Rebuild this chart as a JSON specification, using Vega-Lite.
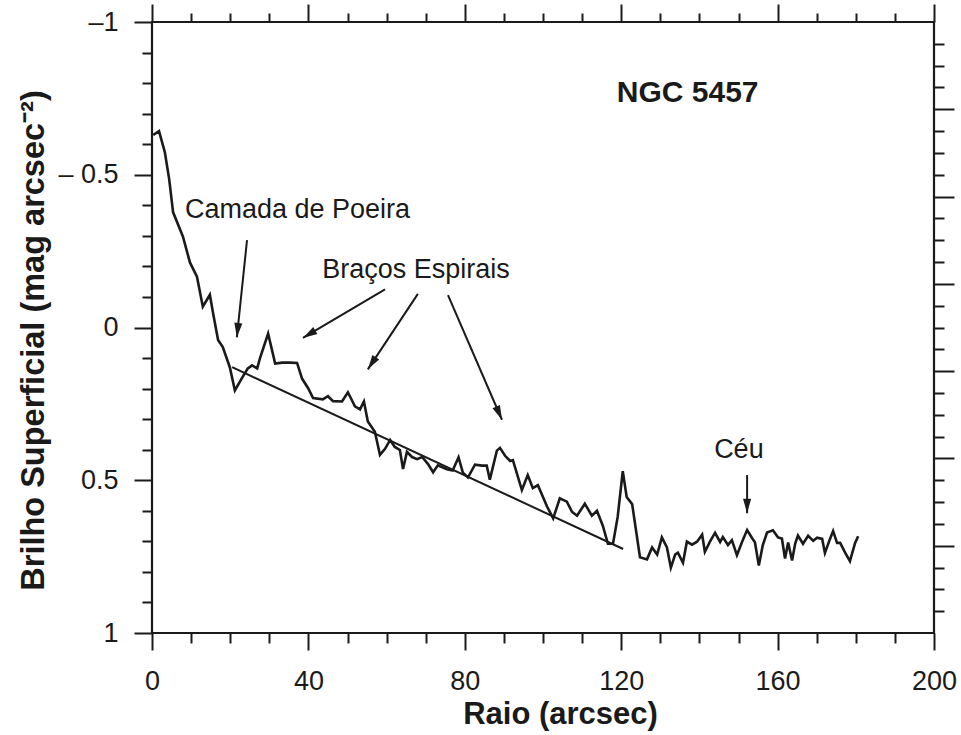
{
  "$schema": "https://vega.github.io/schema/vega-lite/v6.json",
  "width": 782,
  "height": 611,
  "autosize": {"type": "none"},
  "padding": {"left": 152, "top": 22, "right": 27, "bottom": 102},
  "background": "white",
  "config": {
    "view": {"stroke": "#1a1a1a", "strokeWidth": 2.2},
    "axis": {
      "domain": false,
      "grid": false,
      "tickColor": "#1a1a1a",
      "tickWidth": 2,
      "labelFont": "Liberation Sans",
      "labelFontSize": 27,
      "labelColor": "#1a1a1a",
      "labelFlush": false,
      "labelOverlap": false,
      "labelBound": false,
      "titleFont": "Liberation Sans",
      "titleFontSize": 31,
      "titleFontWeight": "bold",
      "titleColor": "#1a1a1a"
    }
  },
  "datasets": {
    "profile": [
      {"raio": 0.3, "brilho": -0.63},
      {"raio": 1.8, "brilho": -0.643},
      {"raio": 3.3, "brilho": -0.573},
      {"raio": 4.4, "brilho": -0.485},
      {"raio": 5.4, "brilho": -0.377},
      {"raio": 7.9, "brilho": -0.298},
      {"raio": 9.7, "brilho": -0.213},
      {"raio": 11.5, "brilho": -0.166},
      {"raio": 13.0, "brilho": -0.068},
      {"raio": 14.8, "brilho": -0.107},
      {"raio": 15.6, "brilho": -0.048},
      {"raio": 16.9, "brilho": 0.041},
      {"raio": 18.1, "brilho": 0.064},
      {"raio": 19.9, "brilho": 0.13},
      {"raio": 21.2, "brilho": 0.206},
      {"raio": 23.0, "brilho": 0.166},
      {"raio": 24.5, "brilho": 0.134},
      {"raio": 25.6, "brilho": 0.124},
      {"raio": 26.9, "brilho": 0.134},
      {"raio": 27.6, "brilho": 0.101},
      {"raio": 29.7, "brilho": 0.02},
      {"raio": 31.5, "brilho": 0.118},
      {"raio": 33.3, "brilho": 0.115},
      {"raio": 35.3, "brilho": 0.115},
      {"raio": 37.1, "brilho": 0.116},
      {"raio": 38.4, "brilho": 0.168},
      {"raio": 39.9, "brilho": 0.198},
      {"raio": 41.2, "brilho": 0.231},
      {"raio": 43.7, "brilho": 0.235},
      {"raio": 45.0, "brilho": 0.225},
      {"raio": 46.3, "brilho": 0.241},
      {"raio": 48.6, "brilho": 0.242},
      {"raio": 50.1, "brilho": 0.212},
      {"raio": 51.9, "brilho": 0.258},
      {"raio": 53.2, "brilho": 0.268},
      {"raio": 54.2, "brilho": 0.242},
      {"raio": 55.2, "brilho": 0.308},
      {"raio": 57.0, "brilho": 0.341},
      {"raio": 58.3, "brilho": 0.417},
      {"raio": 59.6, "brilho": 0.397},
      {"raio": 60.9, "brilho": 0.368},
      {"raio": 62.1, "brilho": 0.391},
      {"raio": 63.4, "brilho": 0.401},
      {"raio": 64.2, "brilho": 0.463},
      {"raio": 65.2, "brilho": 0.407},
      {"raio": 66.5, "brilho": 0.424},
      {"raio": 67.8, "brilho": 0.431},
      {"raio": 69.1, "brilho": 0.424},
      {"raio": 70.6, "brilho": 0.447},
      {"raio": 71.9, "brilho": 0.474},
      {"raio": 73.1, "brilho": 0.451},
      {"raio": 75.4, "brilho": 0.464},
      {"raio": 76.9, "brilho": 0.468},
      {"raio": 78.4, "brilho": 0.425},
      {"raio": 79.5, "brilho": 0.475},
      {"raio": 80.8, "brilho": 0.491},
      {"raio": 82.6, "brilho": 0.449},
      {"raio": 84.4, "brilho": 0.452},
      {"raio": 85.6, "brilho": 0.452},
      {"raio": 86.4, "brilho": 0.498},
      {"raio": 88.2, "brilho": 0.403},
      {"raio": 89.0, "brilho": 0.394},
      {"raio": 90.3, "brilho": 0.42},
      {"raio": 91.6, "brilho": 0.437},
      {"raio": 92.3, "brilho": 0.434},
      {"raio": 94.6, "brilho": 0.532},
      {"raio": 96.1, "brilho": 0.483},
      {"raio": 97.4, "brilho": 0.526},
      {"raio": 98.7, "brilho": 0.516},
      {"raio": 101.0, "brilho": 0.585},
      {"raio": 102.6, "brilho": 0.625},
      {"raio": 104.3, "brilho": 0.559},
      {"raio": 106.1, "brilho": 0.57},
      {"raio": 107.4, "brilho": 0.603},
      {"raio": 108.7, "brilho": 0.616},
      {"raio": 110.7, "brilho": 0.577},
      {"raio": 112.5, "brilho": 0.616},
      {"raio": 113.8, "brilho": 0.6},
      {"raio": 115.3, "brilho": 0.649},
      {"raio": 116.6, "brilho": 0.708},
      {"raio": 117.9, "brilho": 0.708},
      {"raio": 119.1, "brilho": 0.62},
      {"raio": 120.4, "brilho": 0.47},
      {"raio": 121.4, "brilho": 0.555},
      {"raio": 122.8, "brilho": 0.578},
      {"raio": 124.8, "brilho": 0.752},
      {"raio": 126.6, "brilho": 0.759},
      {"raio": 127.9, "brilho": 0.72},
      {"raio": 129.2, "brilho": 0.743},
      {"raio": 130.4, "brilho": 0.687},
      {"raio": 131.7, "brilho": 0.72},
      {"raio": 132.7, "brilho": 0.786},
      {"raio": 133.8, "brilho": 0.743},
      {"raio": 134.5, "brilho": 0.737},
      {"raio": 135.8, "brilho": 0.77},
      {"raio": 136.8, "brilho": 0.701},
      {"raio": 138.1, "brilho": 0.711},
      {"raio": 139.4, "brilho": 0.701},
      {"raio": 140.7, "brilho": 0.678},
      {"raio": 141.4, "brilho": 0.734},
      {"raio": 142.7, "brilho": 0.701},
      {"raio": 144.0, "brilho": 0.672},
      {"raio": 145.3, "brilho": 0.702},
      {"raio": 146.0, "brilho": 0.686},
      {"raio": 147.3, "brilho": 0.712},
      {"raio": 148.3, "brilho": 0.696},
      {"raio": 149.6, "brilho": 0.745},
      {"raio": 150.9, "brilho": 0.702},
      {"raio": 152.2, "brilho": 0.663},
      {"raio": 153.5, "brilho": 0.69},
      {"raio": 154.2, "brilho": 0.703},
      {"raio": 155.2, "brilho": 0.779},
      {"raio": 156.2, "brilho": 0.713},
      {"raio": 157.3, "brilho": 0.671},
      {"raio": 158.8, "brilho": 0.664},
      {"raio": 160.1, "brilho": 0.687},
      {"raio": 161.1, "brilho": 0.691},
      {"raio": 161.9, "brilho": 0.756},
      {"raio": 162.7, "brilho": 0.704},
      {"raio": 163.7, "brilho": 0.763},
      {"raio": 164.5, "brilho": 0.707},
      {"raio": 165.2, "brilho": 0.681},
      {"raio": 166.5, "brilho": 0.708},
      {"raio": 167.8, "brilho": 0.682},
      {"raio": 169.1, "brilho": 0.698},
      {"raio": 170.1, "brilho": 0.688},
      {"raio": 171.4, "brilho": 0.692},
      {"raio": 172.1, "brilho": 0.738},
      {"raio": 173.4, "brilho": 0.692},
      {"raio": 174.2, "brilho": 0.666},
      {"raio": 175.2, "brilho": 0.705},
      {"raio": 176.0, "brilho": 0.705},
      {"raio": 177.3, "brilho": 0.738},
      {"raio": 178.5, "brilho": 0.765},
      {"raio": 179.8, "brilho": 0.706},
      {"raio": 180.6, "brilho": 0.683}
    ],
    "fit": [
      {"raio": 20.5, "brilho": 0.13, "raio2": 120.5, "brilho2": 0.725}
    ],
    "arrows": [
      {"nome": "Camada de Poeira", "raio": 24.3, "brilho": -0.286, "raio2": 21.7, "brilho2": 0.032},
      {"nome": "Braços Espirais 1", "raio": 59.6, "brilho": -0.125, "raio2": 38.6, "brilho2": 0.034},
      {"nome": "Braços Espirais 2", "raio": 68.0, "brilho": -0.11, "raio2": 55.2, "brilho2": 0.137},
      {"nome": "Braços Espirais 3", "raio": 75.7, "brilho": -0.106, "raio2": 89.5, "brilho2": 0.302},
      {"nome": "Céu", "raio": 152.2, "brilho": 0.483, "raio2": 152.2, "brilho2": 0.608}
    ],
    "labels": [
      {"raio": 37.2, "brilho": -0.383, "texto": "Camada de Poeira"},
      {"raio": 67.5, "brilho": -0.189, "texto": "Braços Espirais"},
      {"raio": 150.1, "brilho": 0.401, "texto": "Céu"}
    ],
    "title": [
      {"raio": 137.0, "brilho": -0.768, "texto": "NGC 5457"}
    ]
  },
  "resolve": {"axis": {"x": "independent", "y": "independent"}},
  "layer": [
    {
      "data": {"name": "profile"},
      "mark": {"type": "line", "color": "#1a1a1a", "strokeWidth": 2.6},
      "encoding": {
        "x": {
          "field": "raio", "type": "quantitative",
          "scale": {"domain": [0, 200], "nice": false, "zero": false},
          "axis": {
            "orient": "bottom", "values": [0, 40, 80, 120, 160, 200],
            "tickSize": 17, "labelPadding": 18,
            "labelExpr": "format(datum.value, 'd')",
            "title": "Raio (arcsec)", "titleX": 408, "titleY": 90,
            "titleAlign": "center", "titleBaseline": "alphabetic"
          }
        },
        "y": {
          "field": "brilho", "type": "quantitative",
          "scale": {"domain": [-1, 1], "reverse": true, "nice": false, "zero": false},
          "axis": {
            "orient": "left", "values": [-1, -0.5, 0, 0.5, 1],
            "tickSize": 18, "labelPadding": 16,
            "labelExpr": "datum.value == -1 ? '–1' : datum.value == -0.5 ? '– 0.5' : datum.value == 0 ? '0' : datum.value == 0.5 ? '0.5' : '1'",
            "title": "Brilho Superficial (mag arcsec⁻²)", "titleFontSize": 32.5,
            "titleX": -109, "titleY": 318,
            "titleAngle": 270, "titleAlign": "center", "titleBaseline": "alphabetic"
          }
        }
      }
    },
    {
      "data": {"name": "fit"},
      "mark": {"type": "rule", "color": "#1a1a1a", "strokeWidth": 2},
      "encoding": {
        "x": {
          "field": "raio", "type": "quantitative",
          "scale": {"domain": [0, 200], "nice": false, "zero": false},
          "axis": {
            "orient": "bottom",
            "values": [10, 20, 30, 50, 60, 70, 90, 100, 110, 130, 140, 150, 170, 180, 190],
            "tickSize": 10, "labels": false, "title": null
          }
        },
        "y": {
          "field": "brilho", "type": "quantitative",
          "scale": {"domain": [-1, 1], "reverse": true, "nice": false, "zero": false},
          "axis": {
            "orient": "left",
            "values": [-0.9, -0.8, -0.7, -0.6, -0.4, -0.3, -0.2, -0.1, 0.1, 0.2, 0.3, 0.4, 0.6, 0.7, 0.8, 0.9],
            "tickSize": 10, "labels": false, "title": null
          }
        },
        "x2": {"field": "raio2"},
        "y2": {"field": "brilho2"}
      }
    },
    {
      "data": {"name": "arrows"},
      "mark": {"type": "rule", "color": "#1a1a1a", "strokeWidth": 2},
      "encoding": {
        "x": {
          "field": "raio", "type": "quantitative",
          "scale": {"domain": [0, 200], "nice": false, "zero": false},
          "axis": {
            "orient": "top", "values": [0, 40, 80, 120, 160, 200],
            "tickSize": 18, "labels": false, "title": null
          }
        },
        "y": {
          "field": "brilho", "type": "quantitative",
          "scale": {"domain": [-1, 1], "reverse": true, "nice": false, "zero": false},
          "axis": {
            "orient": "right",
            "values": [-0.714286, -0.428571, -0.142857, 0.142857, 0.428571, 0.714286],
            "tickSize": 20, "labels": false, "title": null
          }
        },
        "x2": {"field": "raio2"},
        "y2": {"field": "brilho2"}
      }
    },
    {
      "data": {"name": "arrows"},
      "transform": [
        {"calculate": "atan2((datum.raio2 - datum.raio) * 3.91, -(datum.brilho2 - datum.brilho) * 305.5) * 180 / PI", "as": "angulo"}
      ],
      "mark": {"type": "point", "shape": "M0,0L-0.9,3.2L0.9,3.2Z", "filled": true, "size": 81, "color": "#1a1a1a", "opacity": 1},
      "encoding": {
        "x": {
          "field": "raio2", "type": "quantitative",
          "scale": {"domain": [0, 200], "nice": false, "zero": false},
          "axis": {
            "orient": "top",
            "values": [10, 20, 30, 50, 60, 70, 90, 100, 110, 130, 140, 150, 170, 180, 190],
            "tickSize": 9, "labels": false, "title": null
          }
        },
        "y": {
          "field": "brilho2", "type": "quantitative",
          "scale": {"domain": [-1, 1], "reverse": true, "nice": false, "zero": false},
          "axis": {
            "orient": "right",
            "values": [-0.928571, -0.857143, -0.785714, -0.642857, -0.571429, -0.5, -0.357143, -0.285714, -0.214286, -0.071429, 0, 0.071429, 0.214286, 0.285714, 0.357143, 0.5, 0.571429, 0.642857, 0.785714, 0.857143, 0.928571],
            "tickSize": 10, "labels": false, "title": null
          }
        },
        "angle": {"field": "angulo", "type": "quantitative", "scale": null}
      }
    },
    {
      "data": {"name": "labels"},
      "mark": {"type": "text", "font": "Liberation Sans", "fontSize": 27, "color": "#1a1a1a", "align": "center", "baseline": "middle"},
      "encoding": {
        "x": {"field": "raio", "type": "quantitative", "scale": {"domain": [0, 200], "nice": false, "zero": false}, "axis": null},
        "y": {"field": "brilho", "type": "quantitative", "scale": {"domain": [-1, 1], "reverse": true, "nice": false, "zero": false}, "axis": null},
        "text": {"field": "texto"}
      }
    },
    {
      "data": {"name": "title"},
      "mark": {"type": "text", "font": "Liberation Sans", "fontSize": 30, "fontWeight": "bold", "color": "#1a1a1a", "align": "center", "baseline": "middle"},
      "encoding": {
        "x": {"field": "raio", "type": "quantitative", "scale": {"domain": [0, 200], "nice": false, "zero": false}, "axis": null},
        "y": {"field": "brilho", "type": "quantitative", "scale": {"domain": [-1, 1], "reverse": true, "nice": false, "zero": false}, "axis": null},
        "text": {"field": "texto"}
      }
    }
  ]
}
